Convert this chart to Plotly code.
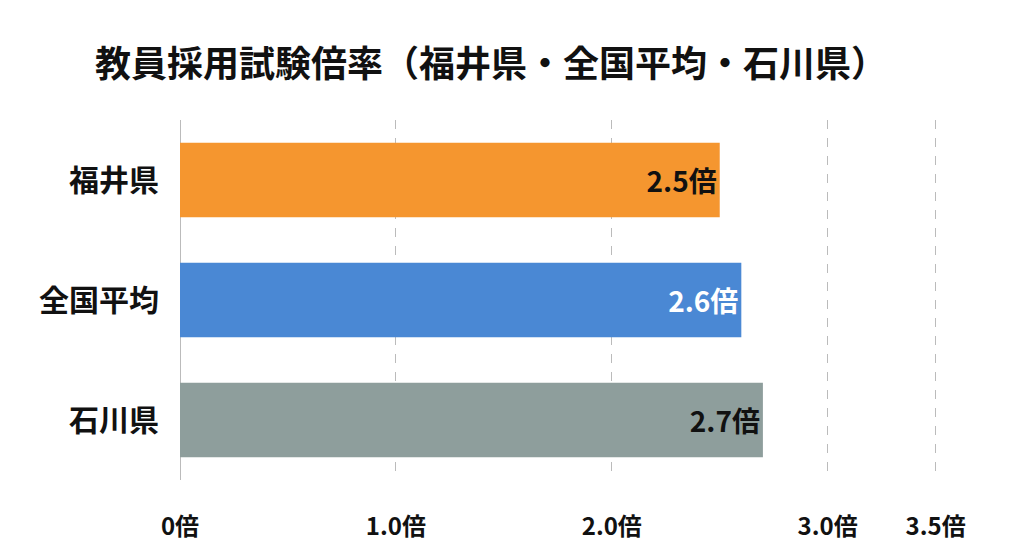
import plotly.graph_objects as go

categories = ["福井県", "全国平均", "石川県"]
values = [2.5, 2.6, 2.7]
labels = ["<b>2.5倍</b>", "<b>2.6倍</b>", "<b>2.7倍</b>"]
colors = ["#F5962F", "#4A88D4", "#8E9E9C"]
label_colors = ["#111111", "#FFFFFF", "#111111"]
tick_vals = [0, 1.0, 2.0, 3.0, 3.5]
tick_text = ["0倍", "1.0倍", "2.0倍", "3.0倍", "3.5倍"]

font = "Noto Sans CJK JP"
fig = go.Figure(go.Bar(
    y=categories, x=values, orientation="h",
    marker=dict(color=colors, line=dict(width=0)),
    text=labels, textposition="inside", insidetextanchor="end",
    textfont=dict(family=font, size=28, color=label_colors),
    cliponaxis=False,
))
fig.update_layout(
    width=1024, height=559,
    margin=dict(l=172, r=64, t=112, b=87),
    paper_bgcolor="white", plot_bgcolor="white",
    bargap=0.38,
    showlegend=False,
    title=dict(text="<b>教員採用試験倍率（福井県・全国平均・石川県）</b>",
               x=0.085, xanchor="left", y=0.9, yanchor="middle",
               font=dict(family=font, size=36, color="#111111")),
    xaxis=dict(range=[0, 3.65], tickvals=tick_vals, ticktext=tick_text,
               showgrid=True, gridcolor="#BBBBBB", griddash="dash", gridwidth=1,
               zeroline=True, zerolinecolor="#BBBBBB", zerolinewidth=1,
               ticklabelstandoff=30, automargin=False,
               tickfont=dict(family=font, size=24, color="#111111", weight="bold")),
    yaxis=dict(autorange="reversed", showgrid=False, ticklabelstandoff=20, automargin=False,
               tickfont=dict(family=font, size=30, color="#111111", weight="bold")),
    uniformtext=dict(mode=False),
)
fig.write_html("out.html")
